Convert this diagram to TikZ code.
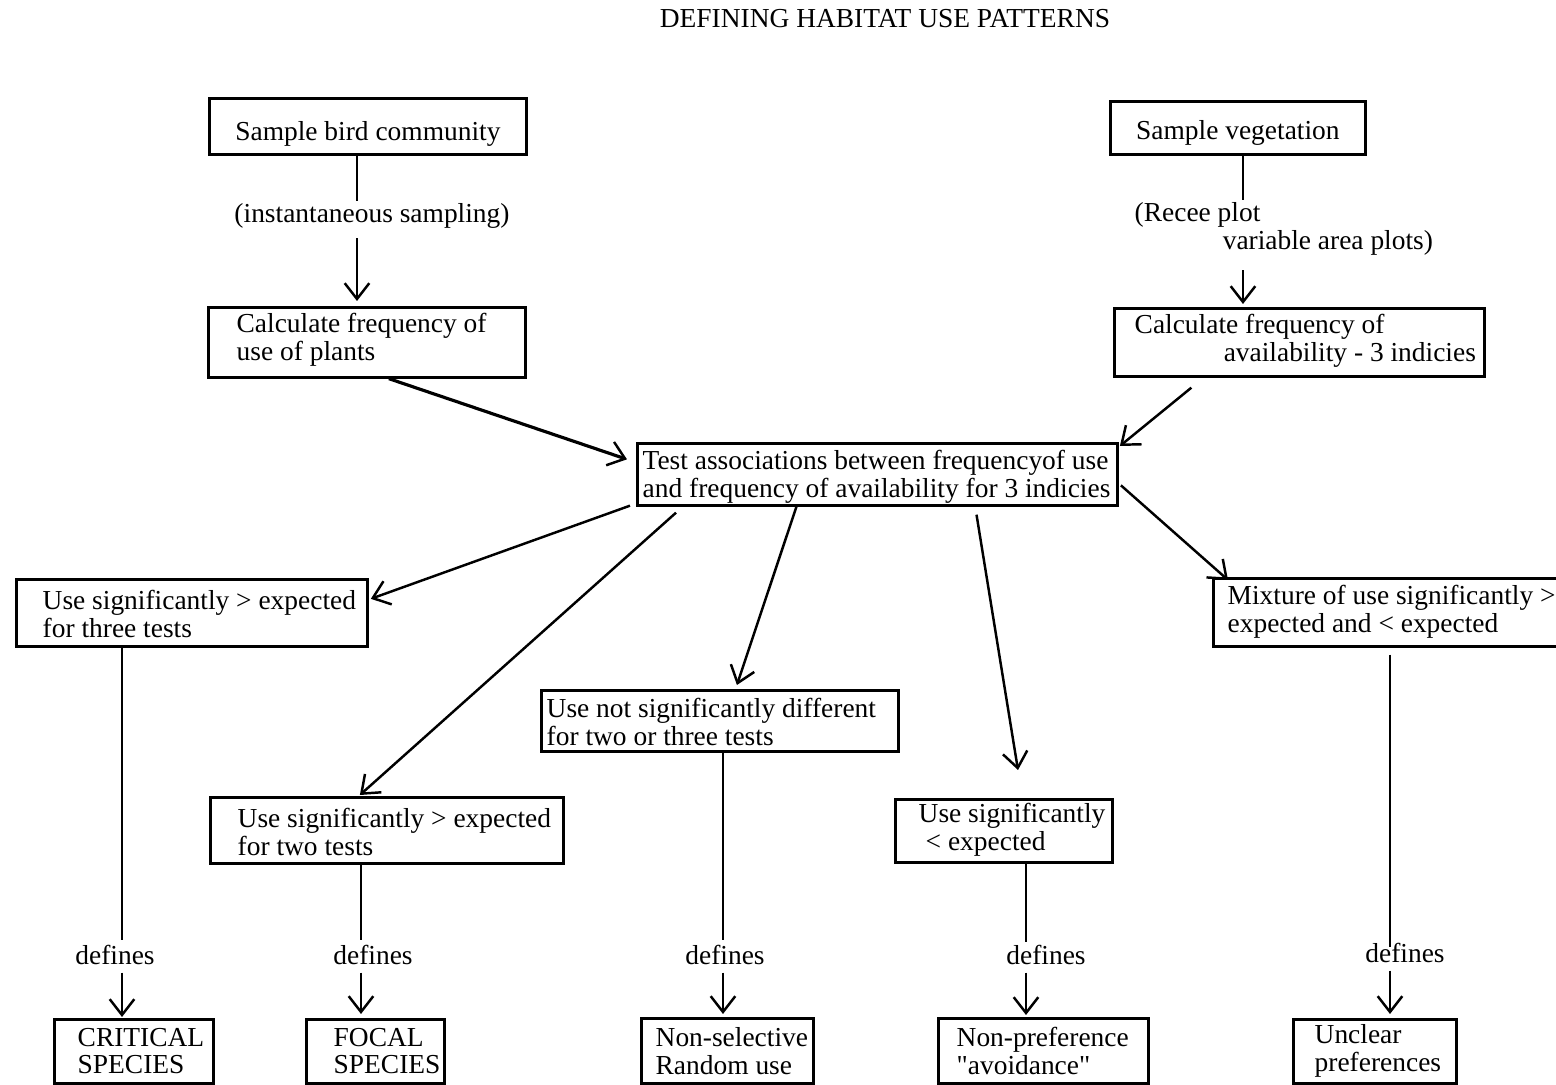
\documentclass[tikz,border=0pt]{standalone}
\usepackage{fontspec}
\setmainfont{Liberation Serif}
\newfontfamily\plainquotes{Liberation Serif}
\usetikzlibrary{arrows.meta}
\begin{document}
\begin{tikzpicture}[x=0.01cm,y=-0.01cm,
  font=\fontsize{7.8}{7.9}\selectfont,
  box/.style={draw,line width=0.75pt,rectangle,inner sep=0pt,anchor=north west},
  txt/.style={align=left,anchor=west,inner sep=0pt},
  lbl/.style={inner sep=2pt},
  link/.style={line width=0.7pt},
  arr/.style={line width=0.7pt,-{Straight Barb[length=4.5pt,width=7pt,line width=0.7pt]}}]
\useasboundingbox (0,0) rectangle (1556,1085);
\fill[white] (0,0) rectangle (1556,1085);
\clip (0,0) rectangle (1556,1085);

% title
\node[lbl] (title) at (885,19) {DEFINING HABITAT USE PATTERNS};

% top boxes
\node[box,minimum width=3.17cm,minimum height=0.56cm,text height=9.5pt,text depth=1.7pt] (bird) at (208,97) {Sample bird community};
\node[box,minimum width=2.55cm,minimum height=0.53cm,text height=8.3pt,text depth=1.7pt] (veg) at (1109,100) {Sample vegetation};

\node[lbl] (inst) at (372,216) {(instantaneous sampling)};
\node[lbl,align=left,anchor=west] (recee) at (1127,229) {(Recee plot\\\hspace*{0.88cm}variable area plots)};

\node[box,minimum width=3.17cm,minimum height=0.70cm] (calcuse) at (207,306) {};
\node[txt] (calcuset) at (236,340) {Calculate frequency of\\use of plants};

\node[box,minimum width=3.70cm,minimum height=0.68cm] (calcav) at (1113,307) {};
\node[txt] (calcavt) at (1134,341) {Calculate frequency of\\\hspace*{0.89cm}availability - 3 indicies};

% central box
\node[box,minimum width=4.80cm,minimum height=0.62cm] (test) at (636,442) {};
\node[txt] (testt) at (642,477) {Test associations between frequencyof use\\and frequency of availability for 3 indicies};

% middle boxes
\node[box,minimum width=3.51cm,minimum height=0.67cm] (three) at (15,578) {};
\node[txt] (threet) at (42,614) {Use significantly > expected\\for three tests};

\node[box,minimum width=3.53cm,minimum height=0.66cm] (two) at (209,796) {};
\node[txt] (twot) at (237,832) {Use significantly > expected\\for two tests};

\node[box,minimum width=3.57cm,minimum height=0.61cm] (notsig) at (540,689) {};
\node[txt] (notsigt) at (546,722) {Use not significantly different\\for two or three tests};

\node[box,minimum width=2.17cm,minimum height=0.63cm] (less) at (894,798) {};
\node[txt] (lesst) at (918,830) {Use significantly\\\hspace*{0.07cm}< expected};

\node[box,minimum width=3.60cm,minimum height=0.68cm] (mix) at (1212,577) {};
\node[txt] (mixt) at (1227,612) {Mixture of use significantly >\\expected and < expected};

% bottom boxes
\node[box,minimum width=1.59cm,minimum height=0.64cm] (crit) at (53,1018) {};
\node[txt] (critt) at (77,1051) {CRITICAL\\SPECIES};

\node[box,minimum width=1.38cm,minimum height=0.64cm] (focal) at (305,1018) {};
\node[txt] (focalt) at (333,1051) {FOCAL\\SPECIES};

\node[box,minimum width=1.72cm,minimum height=0.65cm] (nonsel) at (640,1017) {};
\node[txt] (nonselt) at (655,1051) {Non-selective\\Random use};

\node[box,minimum width=2.10cm,minimum height=0.65cm] (nonpref) at (937,1017) {};
\node[txt] (nonpreft) at (956,1051) {Non-preference\\{\plainquotes "avoidance"}};

\node[box,minimum width=1.63cm,minimum height=0.64cm] (unclear) at (1292,1018) {};
\node[txt] (uncleart) at (1314,1051) {Unclear\\preferences};

% defines labels
\node[lbl] (d1) at (115,955) {defines};
\node[lbl] (d2) at (373,955) {defines};
\node[lbl] (d3) at (725,955) {defines};
\node[lbl] (d4) at (1046,955) {defines};
\node[lbl] (d5) at (1405,953) {defines};

% column coordinates
\coordinate (kA) at (357,0);
\coordinate (kB) at (1243,0);
\coordinate (k1) at (122,0);
\coordinate (k2) at (361,0);
\coordinate (k3) at (723,0);
\coordinate (k4) at (1026,0);
\coordinate (k5) at (1390,0);
\coordinate (lessend) at (1018,770);

% top connectors
\draw[link] (bird.south -| kA) -- ([yshift=-0.05cm]inst.north -| kA);
\draw[arr] ([yshift=-0.02cm]inst.south -| kA) -- ([yshift=0.05cm]calcuse.north -| kA);
\draw[link] (veg.south -| kB) -- ([yshift=-0.05cm]recee.north -| kB);
\draw[arr] ([yshift=-0.07cm]recee.south -| kB) -- ([yshift=0.03cm]calcav.north -| kB);

\draw[arr,line width=0.9pt] ([xshift=0.22cm]calcuse.south) -- ([xshift=-0.09cm,yshift=0.15cm]test.west);
\draw[arr] ([xshift=-1.08cm,yshift=-0.10cm]calcav.south) -- ([xshift=0.01cm,yshift=-0.04cm]test.north east);

% from test
\draw[arr] ([xshift=-0.06cm,yshift=0.01cm]test.south west) -- ([xshift=0.02cm,yshift=0.14cm]three.east);
\draw[arr] ([xshift=0.40cm,yshift=-0.06cm]test.south west) -- ([xshift=-0.27cm,yshift=0.01cm]two.north);
\draw[arr] ([xshift=-0.81cm]test.south) -- ([xshift=0.17cm,yshift=0.04cm]notsig.north);
\draw[arr] ([xshift=0.99cm,yshift=-0.08cm]test.south) -- (lessend);
\draw[arr] ([xshift=0.02cm,yshift=-0.11cm]test.east) -- ([xshift=0.16cm,yshift=-0.03cm]mix.north west);

% columns down to the definitions
\draw[link] (three.south -| k1) -- ([yshift=-0.03cm]d1.north -| k1);
\draw[arr] (d1.south -| k1) -- ([yshift=0.01cm]crit.north -| k1);
\draw[link] (two.south -| k2) -- ([yshift=-0.03cm]d2.north -| k2);
\draw[arr] (d2.south -| k2) -- ([yshift=0.04cm]focal.north -| k2);
\draw[link] (notsig.south -| k3) -- ([yshift=-0.03cm]d3.north -| k3);
\draw[arr] (d3.south -| k3) -- ([yshift=0.03cm]nonsel.north -| k3);
\draw[link] (less.south -| k4) -- ([yshift=-0.05cm]d4.north -| k4);
\draw[arr] (d4.south -| k4) -- ([yshift=0.02cm]nonpref.north -| k4);
\draw[link] ([yshift=-0.07cm]mix.south -| k5) -- ([yshift=-0.12cm]d5.north -| k5);
\draw[arr] (d5.south -| k5) -- ([yshift=0.04cm]unclear.north -| k5);
\end{tikzpicture}
\end{document}
